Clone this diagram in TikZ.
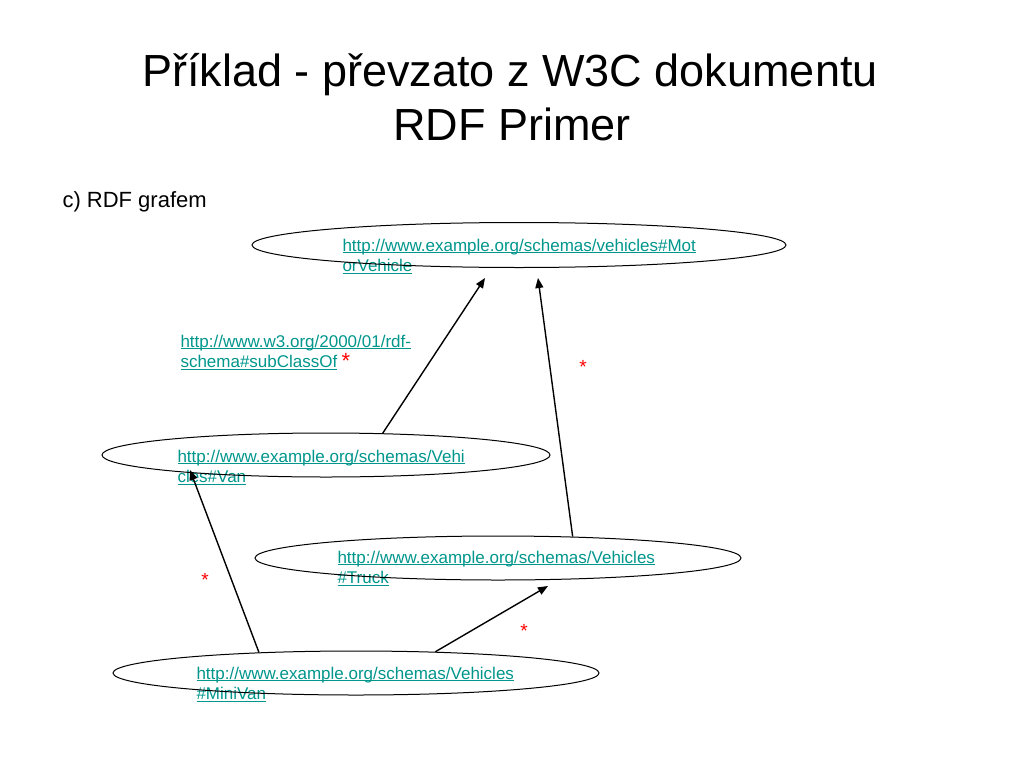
\documentclass[tikz,border=0pt]{standalone}
\usepackage{fontspec}
\setmainfont{Liberation Sans}
\usetikzlibrary{arrows.meta,shapes.geometric}
\definecolor{linkteal}{RGB}{0,150,140}
\newcommand{\lnk}[1]{\underline{\smash{#1}}}

\begin{document}
\begin{tikzpicture}[x=1pt,y=-1pt,->,>={Triangle[length=10pt,width=8pt]},
                    line width=1pt,
                    class/.style={draw,ellipse,inner sep=0pt},
                    uri/.style={text=linkteal,align=left,anchor=base west,inner sep=0pt,
                                font=\fontsize{17}{20.5}\selectfont},
                    star/.style={text=red,anchor=base,inner sep=0pt,font=\fontsize{19}{20}\selectfont}]

  \useasboundingbox (0,0) rectangle (1024,768);

  \node[anchor=base,font=\fontsize{45}{54}\selectfont] (title)    at (510,86)  {Příklad - převzato z W3C dokumentu};
  \node[anchor=base,font=\fontsize{45}{54}\selectfont] (subtitle) at (512,140) {RDF Primer};
  \node[anchor=base west,inner sep=0pt,font=\fontsize{22}{26}\selectfont] (part) at (62,207) {c) RDF grafem};

  \node[uri] (mvtext)      at (342,271.5) {\lnk{http://www.example.org/schemas/vehicles\#Mot}\\\lnk{orVehicle}};
  \node[uri] (subtext)     at (180,367.5) {\lnk{http://www.w3.org/2000/01/rdf-}\\\lnk{schema\#subClassOf}};
  \node[uri] (vantext)     at (177,482.5) {\lnk{http://www.example.org/schemas/Vehi}\\\lnk{cles\#Van}};
  \node[uri] (trucktext)   at (337,583.5) {\lnk{http://www.example.org/schemas/Vehicles}\\\lnk{\#Truck}};
  \node[uri] (minivantext) at (196,699.5) {\lnk{http://www.example.org/schemas/Vehicles}\\\lnk{\#MiniVan}};

  \node[class,minimum width=534pt,minimum height=45pt] (mv)      at (519,245) {};
  \node[class,minimum width=448pt,minimum height=44pt] (van)     at (326,455) {};
  \node[class,minimum width=486pt,minimum height=44pt] (truck)   at (498,558) {};
  \node[class,minimum width=486pt,minimum height=44pt] (minivan) at (356,673) {};

  \coordinate (mv-a)     at (485,278);
  \coordinate (mv-b)     at (538,278);
  \coordinate (van-in)   at (190,470);
  \coordinate (truck-in) at (548,586);

  \draw[line width=1.4pt] (van.21)        -- (mv-a);
  \draw[line width=1.4pt] (truck.16)      -- (mv-b);
  \draw[line width=1.4pt] (minivan.168.5) -- (van-in);
  \draw[line width=1.4pt] (minivan.15)    -- (truck-in);

  \node[star,font=\fontsize{22}{22}\selectfont] (star1) at (346,368) {*};
  \node[star] (star2) at (583,373) {*};
  \node[star] (star3) at (205,586) {*};
  \node[star] (star4) at (524,637) {*};

\end{tikzpicture}
\end{document}
